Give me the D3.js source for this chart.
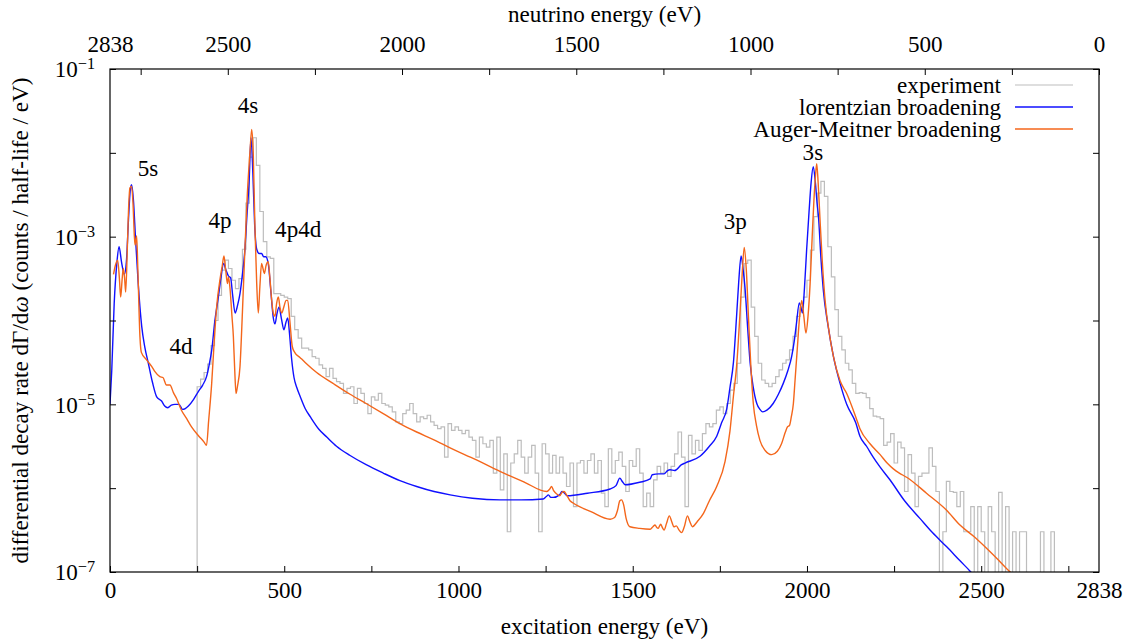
<!DOCTYPE html>
<html>
<head>
<meta charset="utf-8">
<script src="https://cdn.jsdelivr.net/npm/d3@7"></script>
<style>
  body { margin: 0; background: #fff; }
  svg text { fill: #000; }
</style>
</head>
<body>
<div id="chart"></div>
<script>

// energy scale (eV): excitation energy at the bottom, neutrino energy = Q - excitation on top
var qValue = 2838;
var minorStep = 250;
var bottomLabels = [0, 500, 1000, 1500, 2000, 2500, 2838];
var topLabels = [2838, 2500, 2000, 1500, 1000, 500, 0];
var decades = [-7, -6, -5, -4, -3, -2, -1];
var labelledDecades = [-7, -5, -3, -1];

// experiment: histogram, 10 eV bins from 250 eV, log10(rate); null = empty bin
var expStart = 250, expWidth = 10;
var expLog = [
  -4.79,-4.70,-4.62,-4.52,-4.30,-4.00,-3.70,-3.40,-3.28,-3.38,
  -3.52,-3.62,-3.50,-3.15,-2.60,-2.05,-1.82,-2.15,-2.70,-3.06,
  -3.24,-3.26,-3.68,-3.68,-3.70,-3.72,-3.74,-3.95,-4.11,-4.21,
  -4.33,-4.33,-4.35,-4.43,-4.45,-4.53,-4.57,-4.67,-4.57,-4.69,
  -4.73,-4.75,-4.87,-4.81,-4.79,-4.99,-4.81,-4.87,-4.99,-5.11,
  -4.91,-4.95,-4.87,-4.99,-5.01,-5.03,-5.09,-5.21,-5.23,-5.11,
  -5.07,-4.99,-5.11,-5.21,-5.15,-5.17,-5.13,-5.21,-5.25,-5.29,
  -5.27,-5.63,-5.23,-5.31,-5.27,-5.31,-5.35,-5.31,-5.39,-5.43,
  -5.63,-5.39,-5.47,-5.51,-5.43,-5.82,-5.39,-6.02,-5.59,-6.52,
  -5.70,-5.59,-5.43,-5.63,-5.82,-5.63,-5.49,-5.82,-6.52,-5.47,
  -5.59,-5.82,-5.61,-5.82,-5.63,-5.82,-5.98,-5.70,-6.22,-5.70,
  -5.67,-5.82,-5.67,-5.59,-5.82,-5.67,-6.06,-6.22,-5.53,-5.82,
  -5.67,-5.57,-5.74,-6.04,-5.67,-5.74,-5.53,-5.82,-6.22,-6.06,
  -6.22,-5.90,-5.74,-5.82,-5.70,-5.86,-5.74,-5.59,-5.33,-5.63,
  -6.22,-5.37,-5.59,-5.43,-5.55,-5.35,-5.23,-5.27,-5.23,-5.07,
  -5.03,-5.11,-4.99,-4.83,-4.75,-4.51,-3.72,-3.32,-3.28,-3.84,
  -4.19,-4.51,-4.71,-4.75,-4.79,-4.75,-4.67,-4.59,-4.51,-4.47,
  -4.35,-4.19,-3.95,-3.84,-3.72,-3.52,-3.16,-2.76,-2.48,-2.34,
  -2.52,-3.12,-3.48,-3.87,-4.19,-4.35,-4.51,-4.59,-4.75,-4.87,
  -4.86,-4.87,-4.92,-5.05,-5.14,-5.15,-5.17,-5.49,-5.45,-5.35,
  -5.70,-5.45,-5.52,-6.04,-5.60,-5.82,-6.22,-5.86,-5.82,-5.82,
  -5.52,-5.74,-6.04,null,-6.52,-5.92,-6.04,-6.05,-6.22,-6.04,
  -6.52,-6.52,-6.22,null,-6.22,-6.52,null,-6.22,-6.52,null,
  -6.05,null,-6.22,null,-6.52,null,-6.52,-6.52,null,null,
  null,null,-6.52,null,null,-6.52
];

// [excitation energy (eV), log10(rate)]
var lorentzian = [
  [0,-5.0],[5,-4.6],[12,-3.8],[20,-3.3],[26,-3.12],[33,-3.3],[41,-3.45],[47,-3.3],
  [53,-2.8],[58,-2.45],[62,-2.38],[67,-2.55],[73,-3.0],[81,-3.56],[91,-4.07],[100,-4.32],
  [110,-4.51],[122,-4.74],[134,-4.91],[148,-4.96],[157,-5.02],[166,-5.04],[176,-5.01],
  [186,-5.0],[198,-5.0],[208,-5.06],[216,-5.05],[225,-5.02],[240,-4.94],[253,-4.85],
  [266,-4.77],[277,-4.67],[285,-4.52],[292,-4.35],[301,-4.0],[311,-3.72],[318,-3.5],
  [326,-3.32],[333,-3.4],[340,-3.47],[346,-3.49],[352,-3.7],[359,-3.91],[366,-3.82],
  [373,-3.68],[380,-3.45],[387,-3.16],[393,-2.75],[399,-2.36],[404.6,-1.82],[410,-2.25],
  [415,-2.85],[421,-3.15],[428,-3.2],[435,-3.2],[441,-3.24],[447,-3.24],[454,-3.32],
  [462,-3.67],[468,-3.95],[473.5,-4.04],[479,-3.92],[485,-3.84],[492,-3.98],[499,-4.11],
  [505,-4.02],[510,-3.97],[515,-4.15],[521,-4.45],[528,-4.68],[536,-4.8],[546,-4.91],
  [560,-5.05],[575,-5.15],[600,-5.3],[622,-5.39],[650,-5.50],[689,-5.61],[735,-5.72],
  [784,-5.82],[832,-5.91],[880,-5.98],[930,-6.04],[976,-6.08],[1040,-6.12],[1119,-6.14],
  [1180,-6.14],[1243,-6.13],[1252,-6.10],[1258,-6.08],[1265,-6.11],[1272,-6.11],
  [1290,-6.08],[1297,-6.04],[1304,-6.06],[1312,-6.09],[1370,-6.06],[1435,-6.01],
  [1452,-5.97],[1463,-5.88],[1470,-5.92],[1478,-5.96],[1520,-5.93],[1550,-5.89],
  [1556,-5.84],[1575,-5.83],[1590,-5.83],[1600,-5.79],[1607,-5.78],[1620,-5.79],
  [1640,-5.72],[1650,-5.70],[1693,-5.62],[1720,-5.5],[1741,-5.38],[1755,-5.22],
  [1770,-5.05],[1779,-4.8],[1789,-4.5],[1798,-3.95],[1804,-3.55],[1811,-3.23],
  [1817,-3.4],[1822,-3.6],[1830,-4.1],[1837,-4.51],[1846,-4.8],[1856,-4.99],[1865,-5.06],
  [1873,-5.09],[1885,-5.07],[1903,-4.99],[1918,-4.88],[1932,-4.75],[1945,-4.6],
  [1956,-4.43],[1964,-4.23],[1970,-4.03],[1978,-3.79],[1983,-3.85],[1987,-3.91],
  [1993,-3.6],[1999,-3.16],[2006,-2.7],[2012,-2.35],[2018,-2.165],[2024,-2.35],
  [2029,-2.6],[2033,-2.76],[2040,-3.25],[2047,-3.64],[2060,-4.05],[2076,-4.43],
  [2095,-4.75],[2114,-5.0],[2140,-5.22],[2152,-5.38],[2171,-5.5],[2190,-5.63],
  [2210,-5.75],[2238,-5.9],[2280,-6.15],[2324,-6.36],[2360,-6.53],[2401,-6.70],
  [2440,-6.87],[2468,-6.99],[2490,-7.1]
];

var augerMeitner = [
  [10,-3.45],[15,-3.35],[22,-3.28],[27,-3.5],[30.6,-3.72],[35,-3.5],[38,-3.38],[42,-3.5],
  [45,-3.66],[50,-3.1],[54,-2.6],[57,-2.42],[62,-2.40],[66,-2.6],[70,-3.0],[72,-3.1],
  [76.5,-2.99],[80,-3.4],[86,-4.2],[90,-4.38],[105,-4.47],[120,-4.55],[129,-4.61],
  [143,-4.67],[152,-4.68],[162,-4.77],[172,-4.77],[182,-4.86],[191,-4.93],[205,-5.07],
  [220,-5.17],[234,-5.27],[255,-5.38],[270,-5.45],[277,-5.49],[283,-5.2],[291.8,-4.75],
  [299,-4.25],[306,-3.84],[316,-3.5],[322,-3.35],[327,-3.23],[332,-3.4],[337,-3.56],
  [340,-3.48],[344,-3.6],[350,-3.95],[354,-4.19],[358,-4.6],[361.6,-4.87],[366,-4.78],
  [373,-4.55],[380,-3.9],[387,-3.16],[394,-2.5],[402,-1.97],[406.6,-1.72],[411,-2.0],
  [416,-2.9],[421,-3.56],[425.6,-3.91],[430,-3.6],[435,-3.32],[439,-3.38],[443,-3.44],
  [448,-3.34],[454,-3.30],[459,-3.5],[464,-3.76],[469,-3.92],[473.5,-3.95],[478,-3.8],
  [483,-3.72],[488,-3.85],[492.7,-3.91],[500,-3.82],[505,-3.76],[510,-3.76],[516,-4.0],
  [523,-4.31],[530,-4.38],[545,-4.44],[560,-4.50],[593,-4.62],[640,-4.75],[689,-4.88],
  [735,-4.99],[784,-5.11],[832,-5.23],[880,-5.33],[928,-5.42],[976,-5.52],[1050,-5.66],
  [1119,-5.80],[1190,-5.93],[1253,-6.04],[1262,-6.01],[1267,-5.98],[1273,-6.03],
  [1282,-6.07],[1291,-6.09],[1297,-6.05],[1303,-6.04],[1310,-6.08],[1320,-6.15],
  [1330,-6.18],[1380,-6.28],[1435,-6.37],[1448,-6.35],[1456,-6.27],[1463,-6.15],
  [1468,-6.14],[1474,-6.2],[1481,-6.36],[1492,-6.46],[1520,-6.48],[1550,-6.49],
  [1558,-6.46],[1564,-6.44],[1569,-6.47],[1573,-6.48],[1580,-6.43],[1585,-6.47],
  [1590,-6.50],[1597,-6.42],[1605,-6.33],[1612,-6.40],[1618,-6.46],[1625,-6.45],
  [1633,-6.50],[1640,-6.53],[1648,-6.46],[1657,-6.33],[1664,-6.40],[1671,-6.46],
  [1685,-6.40],[1703,-6.30],[1720,-6.15],[1741,-5.98],[1765,-5.68],[1779,-5.32],
  [1789,-4.9],[1798,-4.55],[1808,-3.9],[1814,-3.45],[1820,-3.13],[1826,-3.4],[1832,-3.95],
  [1839,-4.55],[1846,-4.99],[1855,-5.25],[1865,-5.43],[1880,-5.55],[1899,-5.60],
  [1915,-5.56],[1927,-5.47],[1938,-5.33],[1944,-5.27],[1950,-5.25],[1955,-5.15],
  [1961,-4.99],[1966,-4.7],[1972,-4.35],[1979,-3.95],[1985,-3.76],[1991,-3.95],
  [1997,-4.15],[2003,-3.95],[2009,-3.56],[2015,-3.0],[2020,-2.56],[2024,-2.3],
  [2028,-2.13],[2032,-2.35],[2037,-2.76],[2044,-3.3],[2052,-3.76],[2064,-4.15],
  [2076,-4.43],[2095,-4.72],[2114,-4.87],[2140,-5.15],[2152,-5.29],[2181,-5.47],
  [2210,-5.60],[2230,-5.70],[2248,-5.77],[2265,-5.82],[2286,-5.87],[2343,-6.06],
  [2400,-6.26],[2439,-6.44],[2480,-6.58],[2516,-6.72],[2550,-6.86],[2583,-7.0],[2610,-7.1]
];

var seriesNames = ["experiment", "lorentzian broadening", "Auger-Meitner broadening"];
var seriesColors = ["#bdbdbd", "#1010ff", "#f4661b"];

// peak annotations, anchored in data coordinates [eV, log10(rate)]
var peakLabels = [
  {text: "5s", x: 109, y: -2.18},
  {text: "4s", x: 396, y: -1.43},
  {text: "4p", x: 316, y: -2.80},
  {text: "4p4d", x: 540, y: -2.91},
  {text: "4d", x: 204, y: -4.30},
  {text: "3p", x: 1794, y: -2.81},
  {text: "3s", x: 2017, y: -1.99}
];


var margin = {top: 69, right: 29, bottom: 70, left: 110},
    width = 989,
    height = 503;

var x = d3.scaleLinear().domain([0, qValue]).range([0, width]);
var xTop = d3.scaleLinear().domain([qValue, 0]).range([0, width]);
var y = d3.scaleLog().domain([1e-7, 1e-1]).range([height, 0]);

function pow10(v) { return v === null ? 1e-9 : Math.pow(10, v); }

var svg = d3.select("#chart").append("svg")
    .attr("width", width + margin.left + margin.right)
    .attr("height", height + margin.top + margin.bottom);

// find a serif face that is really installed (a missing one falls back to
// the generic, so the two probes below would differ), then size it so the
// top title comes out about as wide as in the original (~193px)
function textWidth(family, size, str) {
  var t = svg.append("text").style("font-family", family).style("font-size", size + "px").text(str);
  var w = t.node().getComputedTextLength();
  t.remove();
  return w;
}
var probe = "neutrino energy (eV)";
function hasFont(name) {
  return Math.abs(textWidth("'" + name + "', monospace", 20, probe) -
                  textWidth("'" + name + "', sans-serif", 20, probe)) < 0.5;
}
var serifCandidates = ["Liberation Serif", "DejaVu Serif", "Noto Serif", "Tinos", "FreeSerif",
                       "Nimbus Roman", "TeX Gyre Termes", "Latin Modern Roman", "CMU Serif", "Times"];
var found = serifCandidates.filter(hasFont)[0];
var fontFamily = found ? "'" + found + "', serif" : "serif";
var fontSize = Math.round(230 * 193 / textWidth(fontFamily, 23, probe)) / 10;

var main = svg.append("g")
    .attr("transform", "translate(" + margin.left + "," + margin.top + ")");

main.append("clipPath").attr("id", "plot-clip")
  .append("rect").attr("width", width).attr("height", height);

var plot = main.append("g").attr("clip-path", "url(#plot-clip)");

// experiment histogram as steps
var steps = [[expStart, null]];
expLog.forEach(function(v, i) { steps.push([expStart + i * expWidth, v]); });
steps.push([expStart + expLog.length * expWidth, expLog[expLog.length - 1]]);
steps.push([expStart + expLog.length * expWidth, null]);

plot.append("path")
    .datum(steps)
    .attr("fill", "none")
    .attr("stroke", seriesColors[0])
    .attr("stroke-width", 1.2)
    .attr("d", d3.line()
        .x(function(d) { return x(d[0]); })
        .y(function(d) { return y(pow10(d[1])); })
        .curve(d3.curveStepAfter));

var curve = d3.line()
    .x(function(d) { return x(d[0]); })
    .y(function(d) { return y(pow10(d[1])); })
    .curve(d3.curveMonotoneX);

[lorentzian, augerMeitner].forEach(function(s, i) {
  plot.append("path")
      .datum(s)
      .attr("fill", "none")
      .attr("stroke", seriesColors[i + 1])
      .attr("stroke-width", 1.4)
      .attr("stroke-linejoin", "round")
      .attr("d", curve);
});

// ticks, pointing inwards on all four sides
var minorTicks = d3.range(0, qValue, minorStep);
var decadeValues = decades.map(function(e) { return Math.pow(10, e); });

function noDomain(g) { g.select(".domain").remove(); }

main.append("g")
    .attr("transform", "translate(0," + height + ")")
    .call(d3.axisBottom(x).tickValues(minorTicks).tickSize(-6).tickFormat(""))
    .call(noDomain);
main.append("g")
    .call(d3.axisTop(xTop).tickValues(minorTicks).tickSize(-6).tickFormat(""))
    .call(noDomain);
main.append("g")
    .call(d3.axisLeft(y).tickValues(decadeValues).tickSize(-6).tickFormat(""))
    .call(noDomain);
main.append("g")
    .attr("transform", "translate(" + width + ",0)")
    .call(d3.axisRight(y).tickValues(decadeValues).tickSize(-6).tickFormat(""))
    .call(noDomain);

// tick labels
main.append("g")
    .attr("transform", "translate(0," + height + ")")
    .call(d3.axisBottom(x).tickValues(bottomLabels).tickSize(0).tickPadding(10).tickFormat(d3.format("d")))
    .call(noDomain);
main.append("g")
    .call(d3.axisTop(xTop).tickValues(topLabels).tickSize(0).tickPadding(17).tickFormat(d3.format("d")))
    .call(noDomain);

labelledDecades.forEach(function(e) {
  var t = main.append("text")
      .attr("x", -15)
      .attr("y", y(Math.pow(10, e)))
      .attr("dy", "0.36em")
      .attr("text-anchor", "end");
  t.append("tspan").text("10");
  t.append("tspan").attr("class", "sup").attr("dy", "-0.5em").text("\u2212" + (-e));
});

// frame
main.append("rect")
    .attr("width", width)
    .attr("height", height)
    .attr("fill", "none")
    .attr("stroke", "#000")
    .attr("stroke-width", 1.2);

// axis titles
main.append("text")
    .attr("text-anchor", "middle")
    .attr("transform", "translate(" + (width / 2) + "," + (height + 62) + ")")
    .text("excitation energy (eV)");

main.append("text")
    .attr("text-anchor", "middle")
    .attr("transform", "translate(" + (width / 2) + "," + (-47) + ")")
    .text("neutrino energy (eV)");

var ylab = main.append("text")
    .attr("text-anchor", "middle")
    .attr("transform", "translate(" + (-90) + "," + (height / 2) + ")rotate(-90)")
    .attr("dy", "0.35em");
ylab.append("tspan").text("differential decay rate d\u0393/d");
ylab.append("tspan").style("font-style", "italic").text("\u03c9");
ylab.append("tspan").text(" (counts / half-life / eV)");

// peak labels
main.selectAll(".peak")
    .data(peakLabels)
    .enter().append("text")
      .attr("class", "peak")
      .attr("text-anchor", "middle")
      .attr("x", function(d) { return x(d.x); })
      .attr("y", function(d) { return y(Math.pow(10, d.y)); })
      .attr("dy", "0.35em")
      .text(function(d) { return d.text; });

// key
var key = main.append("g").attr("transform", "translate(" + (width - 98) + ",16)");
seriesNames.forEach(function(name, i) {
  key.append("text")
      .attr("x", 0)
      .attr("y", i * 22)
      .attr("dy", "0.35em")
      .attr("text-anchor", "end")
      .text(name);
  key.append("line")
      .attr("x1", 14).attr("x2", 72)
      .attr("y1", i * 22).attr("y2", i * 22)
      .attr("stroke", seriesColors[i])
      .attr("stroke-width", i === 0 ? 1.2 : 1.4);
});

// one font for every text, superscripts smaller
svg.selectAll("text")
    .style("font-family", fontFamily)
    .style("font-size", fontSize + "px");
svg.selectAll("tspan.sup").style("font-size", "0.7em");

</script>
</body>
</html>
